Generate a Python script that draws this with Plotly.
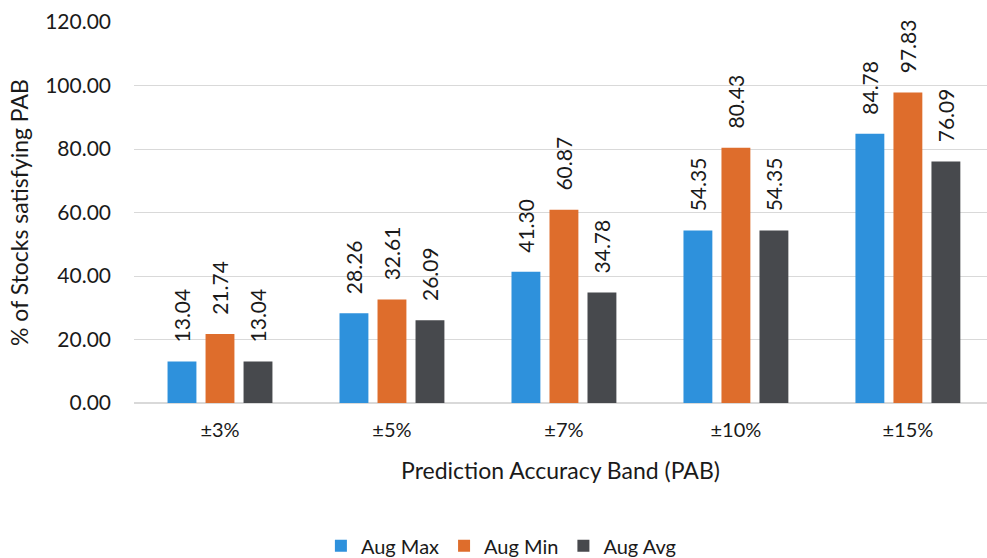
import plotly.graph_objects as go

# Prediction accuracy bands and share of stocks (%) falling inside each band
bands = ["±3%", "±5%", "±7%", "±10%", "±15%"]
aug_max = [13.04, 28.26, 41.30, 54.35, 84.78]
aug_min = [21.74, 32.61, 60.87, 80.43, 97.83]
aug_avg = [13.04, 26.09, 34.78, 54.35, 76.09]

series = [
    ("Aug Max", aug_max, "#2E91DC"),
    ("Aug Min", aug_min, "#DE6D2C"),
    ("Aug Avg", aug_avg, "#47494D"),
]

FONT = "Lato, Carlito, Calibri, sans-serif"
TEXT = "#1a1a1a"
PAD = "\u00a0\u00a0\u00a0"  # keeps value labels clear of the bar tops

fig = go.Figure()
for name, vals, color in series:
    fig.add_trace(go.Bar(
        name=name,
        x=bands,
        y=vals,
        marker=dict(color=color, line=dict(width=0)),
        text=[PAD + f"{v:.2f}" for v in vals],
        textposition="outside",
        textangle=-90,
        constraintext="none",
        cliponaxis=False,
        textfont=dict(family=FONT, size=21, color=TEXT),
    ))

fig.update_layout(
    width=987,
    height=558,
    margin=dict(l=134, r=0, t=22, b=155),
    paper_bgcolor="white",
    plot_bgcolor="white",
    barmode="group",
    bargap=0.337,
    bargroupgap=0.24,
    font=dict(family=FONT, color=TEXT),
    legend=dict(
        orientation="h",
        xref="container",
        yref="container",
        x=0.508,
        xanchor="center",
        y=0.022,
        yanchor="middle",
        font=dict(family=FONT, size=20, color=TEXT),
        itemwidth=30,
        tracegroupgap=0,
    ),
    showlegend=True,
)

fig.update_yaxes(
    range=[0, 120],
    dtick=20,
    tickformat=".2f",
    showgrid=True,
    gridcolor="#d9d9d9",
    gridwidth=1,
    zeroline=True,
    zerolinecolor="#d9d9d9",
    showline=False,
    ticks="",
    ticklabelstandoff=22,
    tickfont=dict(family=FONT, size=21, color=TEXT),
    title=dict(text="% of Stocks satisfying PAB", standoff=10,
               font=dict(family=FONT, size=23, color=TEXT)),
)

fig.update_xaxes(
    range=[-0.5, 4.46],
    showgrid=False,
    showline=False,
    ticks="",
    ticklabelstandoff=13,
    tickfont=dict(family=FONT, size=20, color=TEXT),
    title=dict(text="Prediction Accuracy Band (PAB)", standoff=22,
               font=dict(family=FONT, size=23, color=TEXT)),
)

fig.write_html("out.html")
